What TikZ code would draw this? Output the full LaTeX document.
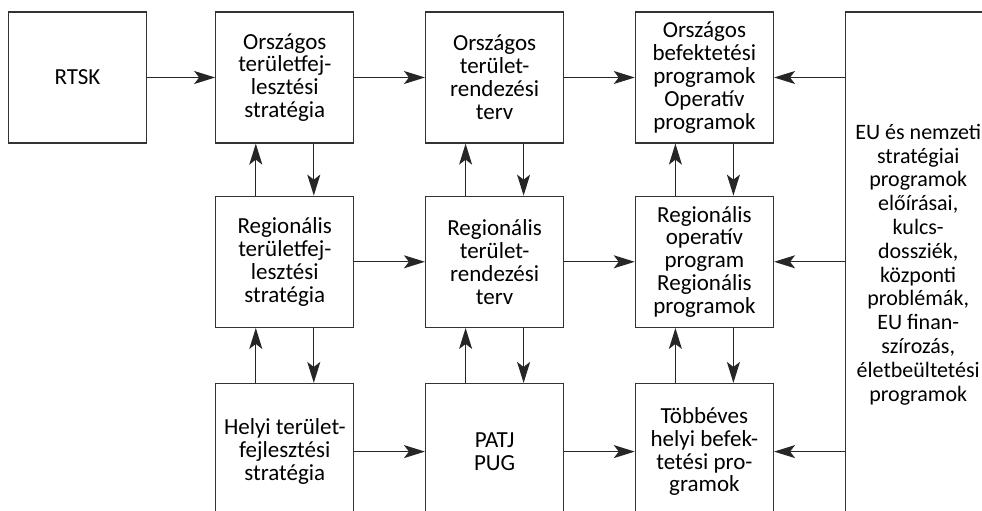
\documentclass[tikz,border=0pt]{standalone}
\usepackage{fontspec}
\setmainfont{Carlito}
\usetikzlibrary{positioning,arrows.meta}

\begin{document}
\begin{tikzpicture}[x=1pt,y=1pt,
	box/.style={draw=black!80,line width=1.3pt,minimum width=138pt,minimum height=131pt,
		inner sep=0pt,align=center,font=\fontsize{23}{22.9}\selectfont},
	panel/.style={box,minimum width=146pt,minimum height=505pt,font=\fontsize{22}{23.8}\selectfont},
	conn/.style={draw=black!85,line width=1.3pt,-{Stealth[length=21pt,width=13pt,inset=5pt]}},
	node distance=52pt and 70.5pt]
	\useasboundingbox (0,0) rectangle (982,511);
	\clip (0,0) rectangle (982,511);
	\def\d{29pt}
	% top row
	\node[box] (rtsk) at (77.5,433.5) {RTSK};
	\node[box,right=68pt of rtsk] (ot) {Országos\\területfej-\\lesztési\\stratégia};
	\node[box,right=of ot] (ort) {Országos\\terület-\\rendezési\\terv};
	\node[box,right=of ort] (obp) {Országos\\befektetési\\programok\\Operatív\\programok};
	% middle row
	\node[box,below=of ot] (rt) {Regionális\\területfej-\\lesztési\\stratégia};
	\node[box,below=of ort] (rrt) {Regionális\\terület-\\rendezési\\terv};
	\node[box,below=of obp] (rop) {Regionális\\operatív\\program\\Regionális\\programok};
	% bottom row, cut by the page edge
	\node[box,minimum height=136pt,below=55pt of rt] (ht) {Helyi terület-\\fejlesztési\\stratégia};
	\node[box,minimum height=136pt,below=55pt of rrt] (patj) {PATJ\\PUG};
	\node[box,minimum height=136pt,below=55pt of rop] (thb) {Többéves\\helyi befek-\\tetési pro-\\gramok};
	\node[panel,anchor=north west] (eu) at ([xshift=70.5pt]obp.north east)
		{EU és nemzeti\\stratégiai\\programok\\előírásai,\\kulcs-\\dossziék,\\központi\\problémák,\\EU finan-\\szírozás,\\életbeültetési\\programok};
	% connectors
	\foreach \a/\b in {rtsk/ot,ot/ort,ort/obp,rt/rrt,rrt/rop,ht/patj,patj/thb}
		\draw[conn] (\a.east) -- (\b.west);
	\foreach \b in {obp,rop,thb}
		\draw[conn] (eu.west |- \b.east) -- (\b.east);
	\foreach \u/\l in {ot/rt,ort/rrt,obp/rop,rt/ht,rrt/patj,rop/thb}{
		\draw[conn] ([xshift=-\d]\l.north) -- ([xshift=-\d]\u.south);
		\draw[conn] ([xshift=\d]\u.south) -- ([xshift=\d]\l.north);
	}
\end{tikzpicture}
\end{document}
